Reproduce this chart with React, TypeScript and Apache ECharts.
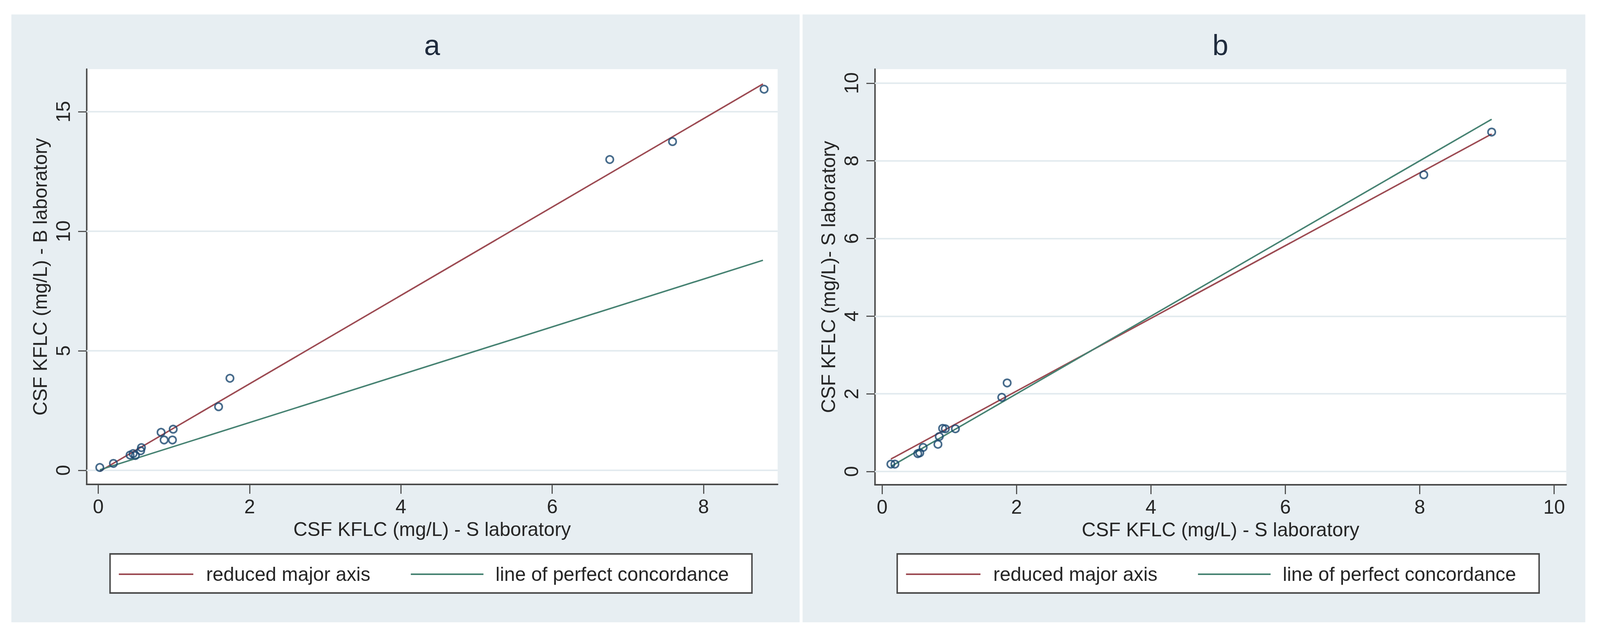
import React, { useEffect, useRef } from "react";
import * as echarts from "echarts";

// ---------- data ----------
const xTicksA = [0, 2, 4, 6, 8];
const yTicksA = [0, 5, 10, 15];
const xTicksB = [0, 2, 4, 6, 8, 10];
const yTicksB = [0, 2, 4, 6, 8, 10];

// panel a: S laboratory (x) vs B laboratory (y)
const pointsAX = [0.02, 0.2, 0.42, 0.46, 0.49, 0.56, 0.57, 0.83, 0.87, 0.98, 0.99, 1.59, 1.74, 6.76, 7.59, 8.8];
const pointsAY = [0.12, 0.29, 0.64, 0.7, 0.62, 0.82, 0.95, 1.59, 1.27, 1.27, 1.72, 2.66, 3.85, 13.0, 13.75, 15.94];
const rmaAX = [0.02, 8.785];
const rmaAY = [-0.04, 16.16];
const concAX = [0.02, 8.785];
const concAY = [0.02, 8.785];

// panel b: S laboratory (x) vs S laboratory (y)
const pointsBX = [0.13, 0.19, 0.53, 0.56, 0.61, 0.83, 0.85, 0.9, 0.94, 1.09, 1.78, 1.86, 8.06, 9.07];
const pointsBY = [0.19, 0.19, 0.46, 0.48, 0.62, 0.7, 0.9, 1.11, 1.1, 1.1, 1.91, 2.28, 7.64, 8.74];
const rmaBX = [0.13, 9.07];
const rmaBY = [0.32, 8.69];
const concBX = [0.13, 9.07];
const concBY = [0.13, 9.07];

const legendNames = ["reduced major axis", "line of perfect concordance"];
const panelTitles = ["a", "b"];
const xAxisTitles = ["CSF KFLC (mg/L) - S laboratory", "CSF KFLC (mg/L) - S laboratory"];
const yAxisTitles = ["CSF KFLC (mg/L) - B laboratory", "CSF KFLC (mg/L)- S laboratory"];

// ---------- style ----------
const FONT = "'Liberation Sans', Arial, Helvetica, sans-serif";
const TEXT = "#262626";
const AXIS = "#4a4a4a";
const BG = "#e7eef2";
const GRIDLINE = "#e3ebef";
const NAVY = "#1a476f";
const MAROON = "#9c4a52";
const TEAL = "#468272";

const REF_W = 4362;
const REF_H = 1623;

const zip = (xs: number[], ys: number[]) => xs.map((x, i) => [x, ys[i]]);

function buildOption(W: number, H: number) {
  const sx = W / REF_W;
  const sy = H / REF_H;
  const sf = Math.min(sx, sy);
  const X = (v: number) => v * sx;
  const Y = (v: number) => v * sy;
  const F = (v: number) => v * sf;
  const FS = F(53);

  const makeXAxis = (gridIndex: number, min: number, max: number, ticks: number[], name: string) => ({
    type: "value",
    gridIndex,
    min,
    max,
    name,
    nameLocation: "middle",
    nameGap: Y(90),
    nameTextStyle: { fontSize: FS, color: TEXT, fontFamily: FONT },
    axisLine: { show: true, onZero: false, lineStyle: { color: AXIS, width: F(4) } },
    axisTick: { show: true, length: Y(24), customValues: ticks, lineStyle: { color: AXIS, width: F(3) } },
    axisLabel: { customValues: ticks, fontSize: FS, margin: Y(32), color: TEXT, fontFamily: FONT },
    splitLine: { show: false },
  });

  const makeYAxis = (gridIndex: number, min: number, max: number, ticks: number[], name: string) => ({
    type: "value",
    gridIndex,
    min,
    max,
    name,
    nameLocation: "middle",
    nameRotate: 90,
    nameGap: X(100),
    nameTextStyle: { fontSize: FS, color: TEXT, fontFamily: FONT },
    axisLine: { show: true, onZero: false, lineStyle: { color: AXIS, width: F(4) } },
    axisTick: { show: true, length: X(23), customValues: ticks, lineStyle: { color: AXIS, width: F(3) } },
    axisLabel: { customValues: ticks, rotate: 90, fontSize: FS, margin: X(37), color: TEXT, fontFamily: FONT },
    splitLine: { show: false },
  });

  const panelSeries = (
    idx: number,
    px: number[],
    py: number[],
    rx: number[],
    ry: number[],
    cx: number[],
    cy: number[],
    gridTicks: number[]
  ) => [
    {
      type: "line",
      name: legendNames[0],
      xAxisIndex: idx,
      yAxisIndex: idx,
      data: zip(rx, ry),
      symbol: "none",
      showSymbol: false,
      lineStyle: { color: MAROON, width: F(4) },
      z: 2,
      silent: true,
    },
    {
      type: "line",
      name: legendNames[1],
      xAxisIndex: idx,
      yAxisIndex: idx,
      data: zip(cx, cy),
      symbol: "none",
      showSymbol: false,
      lineStyle: { color: TEAL, width: F(4) },
      z: 2,
      silent: true,
    },
    {
      type: "scatter",
      name: "observations",
      xAxisIndex: idx,
      yAxisIndex: idx,
      data: zip(px, py),
      symbol: "circle",
      symbolSize: F(20),
      itemStyle: { color: "rgba(255,255,255,0)", borderColor: NAVY, borderWidth: F(4.5) },
      z: 3,
      silent: true,
      markLine: {
        silent: true,
        z: 1,
        symbol: "none",
        label: { show: false },
        lineStyle: { color: GRIDLINE, width: F(4), type: "solid" },
        data: gridTicks.map((v) => ({ yAxis: v })),
      },
    },
  ];

  const legendGraphic = (left: number) => [
    {
      type: "rect",
      shape: { x: X(left), y: Y(1418), width: X(1750), height: Y(100) },
      style: { fill: "#ffffff", stroke: AXIS, lineWidth: F(4) },
      z: 50,
    },
    {
      type: "line",
      shape: { x1: X(left + 24), y1: Y(1470), x2: X(left + 227), y2: Y(1470) },
      style: { stroke: MAROON, lineWidth: F(4) },
      z: 51,
    },
    {
      type: "text",
      x: X(left + 262),
      y: Y(1470),
      style: { text: legendNames[0], fontSize: FS, fontFamily: FONT, fill: TEXT, textVerticalAlign: "middle", textAlign: "left" },
      z: 51,
    },
    {
      type: "line",
      shape: { x1: X(left + 820), y1: Y(1470), x2: X(left + 1018), y2: Y(1470) },
      style: { stroke: TEAL, lineWidth: F(4) },
      z: 51,
    },
    {
      type: "text",
      x: X(left + 1051),
      y: Y(1470),
      style: { text: legendNames[1], fontSize: FS, fontFamily: FONT, fill: TEXT, textVerticalAlign: "middle", textAlign: "left" },
      z: 51,
    },
  ];

  return {
    animation: false,
    backgroundColor: "#ffffff",
    textStyle: { fontFamily: FONT },
    grid: [
      { left: X(236), top: Y(177), width: X(1884), height: Y(1063), show: true, backgroundColor: "#ffffff", borderWidth: 0, containLabel: false },
      { left: X(2385), top: Y(177), width: X(1885), height: Y(1064), show: true, backgroundColor: "#ffffff", borderWidth: 0, containLabel: false },
    ],
    xAxis: [
      makeXAxis(0, -0.155, 8.979, xTicksA, xAxisTitles[0]),
      makeXAxis(1, -0.109, 10.18, xTicksB, xAxisTitles[1]),
    ],
    yAxis: [
      makeYAxis(0, -0.588, 16.78, yTicksA, yAxisTitles[0]),
      makeYAxis(1, -0.342, 10.36, yTicksB, yAxisTitles[1]),
    ],
    series: [
      ...panelSeries(0, pointsAX, pointsAY, rmaAX, rmaAY, concAX, concAY, yTicksA),
      ...panelSeries(1, pointsBX, pointsBY, rmaBX, rmaBY, concBX, concBY, yTicksB),
    ],
    graphic: [
      { type: "rect", shape: { x: X(31), y: Y(37), width: X(2149), height: Y(1556) }, style: { fill: BG }, z: -100, silent: true },
      { type: "rect", shape: { x: X(2188), y: Y(37), width: X(2134), height: Y(1556) }, style: { fill: BG }, z: -100, silent: true },
      {
        type: "text",
        x: X(1178),
        y: Y(116),
        style: { text: panelTitles[0], fontSize: F(78), fontFamily: FONT, fill: "#1f2b3d", textAlign: "center", textVerticalAlign: "middle" },
        z: 10,
      },
      {
        type: "text",
        x: X(3327),
        y: Y(116),
        style: { text: panelTitles[1], fontSize: F(78), fontFamily: FONT, fill: "#1f2b3d", textAlign: "center", textVerticalAlign: "middle" },
        z: 10,
      },
      ...legendGraphic(300),
      ...legendGraphic(2446),
    ],
  };
}

export default function App() {
  const ref = useRef<HTMLDivElement>(null);

  useEffect(() => {
    const el = ref.current;
    if (!el) return;
    const W = el.clientWidth || REF_W;
    const H = el.clientHeight || REF_H;
    const chart = echarts.init(el, undefined, { renderer: "svg", width: W, height: H });
    chart.setOption(buildOption(W, H) as any);
    return () => chart.dispose();
  }, []);

  return (
    <div
      ref={ref}
      style={{
        position: "fixed",
        left: 0,
        top: 0,
        width: "100vw",
        height: "100vh",
        maxWidth: REF_W + "px",
        maxHeight: REF_H + "px",
        background: "#ffffff",
        overflow: "hidden",
      }}
    />
  );
}
